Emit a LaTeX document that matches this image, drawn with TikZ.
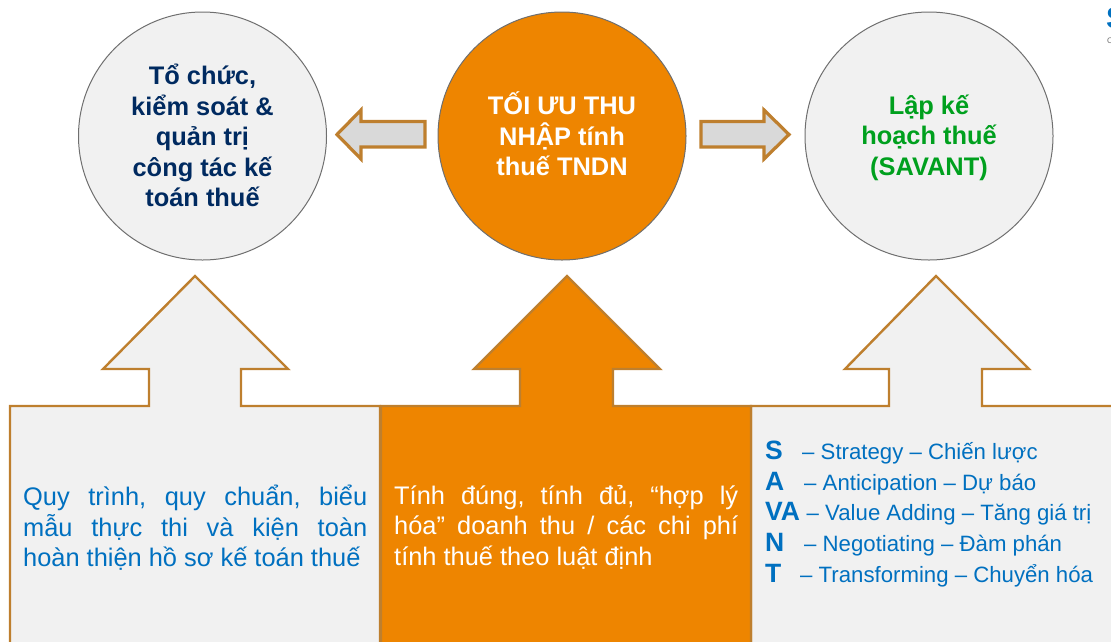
\documentclass[tikz,border=0pt]{standalone}
\usepackage{fontspec}
\setmainfont{Liberation Sans}
\definecolor{brownline}{HTML}{BE7F2E}
\definecolor{orangefill}{HTML}{EE8500}
\definecolor{panelgrey}{HTML}{F1F1F1}
\definecolor{arrowgrey}{HTML}{D9D9D9}
\definecolor{ringgrey}{HTML}{6F6F6F}
\definecolor{navytext}{HTML}{002A60}
\definecolor{greentext}{HTML}{00A01E}
\definecolor{bluetext}{HTML}{0070C0}
\tikzset{
  panel/.style={draw=brownline,line width=2.4pt,line join=miter,fill=panelgrey},
  panelhot/.style={draw=brownline,line width=2.4pt,line join=miter,fill=orangefill},
  smallarrow/.style={draw=brownline,line width=3.2pt,line join=miter,fill=arrowgrey},
  ring/.style={circle,draw=ringgrey,line width=1pt,minimum size=248pt,inner sep=0pt},
  ringtext/.style={inner sep=0pt,align=center,font=\fontsize{25.4}{30.5}\selectfont\bfseries},
  bodytext/.style={inner sep=0pt,anchor=north west,font=\fontsize{25.4}{30.5}\selectfont},
}
\newcommand{\jline}[1]{\hbox to 344pt{#1}}
\newcommand{\savantline}[3]{\hbox{\hbox to 0pt{\fontsize{26.5}{30.5}\selectfont\bfseries #1\hss}\kern #2 #3}}
\begin{document}
\begin{tikzpicture}[x=1pt,y=-1pt]
\useasboundingbox (0,0) rectangle (1111,641);
\draw[panel] (10,650) -- (10,406) -- (149,406) -- (149,369) -- (103,369) -- (195,276) -- (288,369) -- (241,369) -- (241,406) -- (380,406) -- (380,650) -- cycle;
\draw[panel] (751,650) -- (751,406) -- (889,406) -- (889,369) -- (845,369) -- (936,276) -- (1029,369) -- (982,369) -- (982,406) -- (1120,406) -- (1120,650) -- cycle;
\draw[panelhot] (381,650) -- (381,406) -- (520,406) -- (520,369) -- (474,369) -- (567,276) -- (660,369) -- (613,369) -- (613,406) -- (751,406) -- (751,650) -- cycle;
\node[ring,fill=panelgrey] (left) at (202.5,136) {};
\node[ring,fill=orangefill] (mid) at (562,136) {};
\node[ring,fill=panelgrey] (right) at (929,136) {};
\node[ringtext,text=navytext] (lefttext) at (202.5,135.5) {Tổ chức,\\kiểm soát \&\\quản trị\\công tác kế\\toán thuế};
\node[ringtext,text=white] (midtext) at (562,134) {TỐI ƯU THU\\NHẬP tính\\thuế TNDN};
\node[ringtext,text=greentext] (righttext) at (929,137.5) {Lập kế\\hoạch thuế\\(SAVANT)};
\draw[smallarrow] (425,121.5) -- (361,121.5) -- (361,110) -- (337,134.5) -- (361,159) -- (361,147) -- (425,147) -- cycle;
\draw[smallarrow] (701,121.5) -- (764,121.5) -- (764,110) -- (789,134.5) -- (764,159) -- (764,147) -- (701,147) -- cycle;
\node[bodytext,text=bluetext] (rules) at (23,485) {\parbox[t]{344pt}{\jline{Quy\hfill trình,\hfill quy\hfill chuẩn,\hfill biểu}\jline{mẫu\hfill thực\hfill thi\hfill và\hfill kiện\hfill toàn}hoàn thiện hồ sơ kế toán thuế}};
\node[bodytext,text=white] (tax) at (394,485) {\parbox[t]{344pt}{\jline{Tính\hfill đúng,\hfill tính\hfill đủ,\hfill “hợp\hfill lý}\jline{hóa”\hfill doanh\hfill thu\hfill /\hfill các\hfill chi\hfill phí}tính thuế theo luật định}};
\node[inner sep=0pt,anchor=north west,text=bluetext,font=\fontsize{22.2}{30.6}\selectfont] (savant) at (765,441) {\parbox[t]{340pt}{%
\savantline{S}{37pt}{– Strategy – Chiến lược}
\savantline{A}{39pt}{– Anticipation – Dự báo}
\savantline{VA}{41.5pt}{– Value Adding – Tăng giá trị}
\savantline{N}{39pt}{– Negotiating – Đàm phán}
\savantline{T}{35pt}{– Transforming – Chuyển hóa}}};
\node[inner sep=0pt,anchor=north west,text=bluetext,font=\fontsize{30}{30}\selectfont\bfseries] (logo) at (1106,7) {S};
\node[inner sep=0pt,anchor=north west,text=ringgrey,font=\fontsize{8}{8}\selectfont] (logosub) at (1107,38) {C};
\end{tikzpicture}
\end{document}
